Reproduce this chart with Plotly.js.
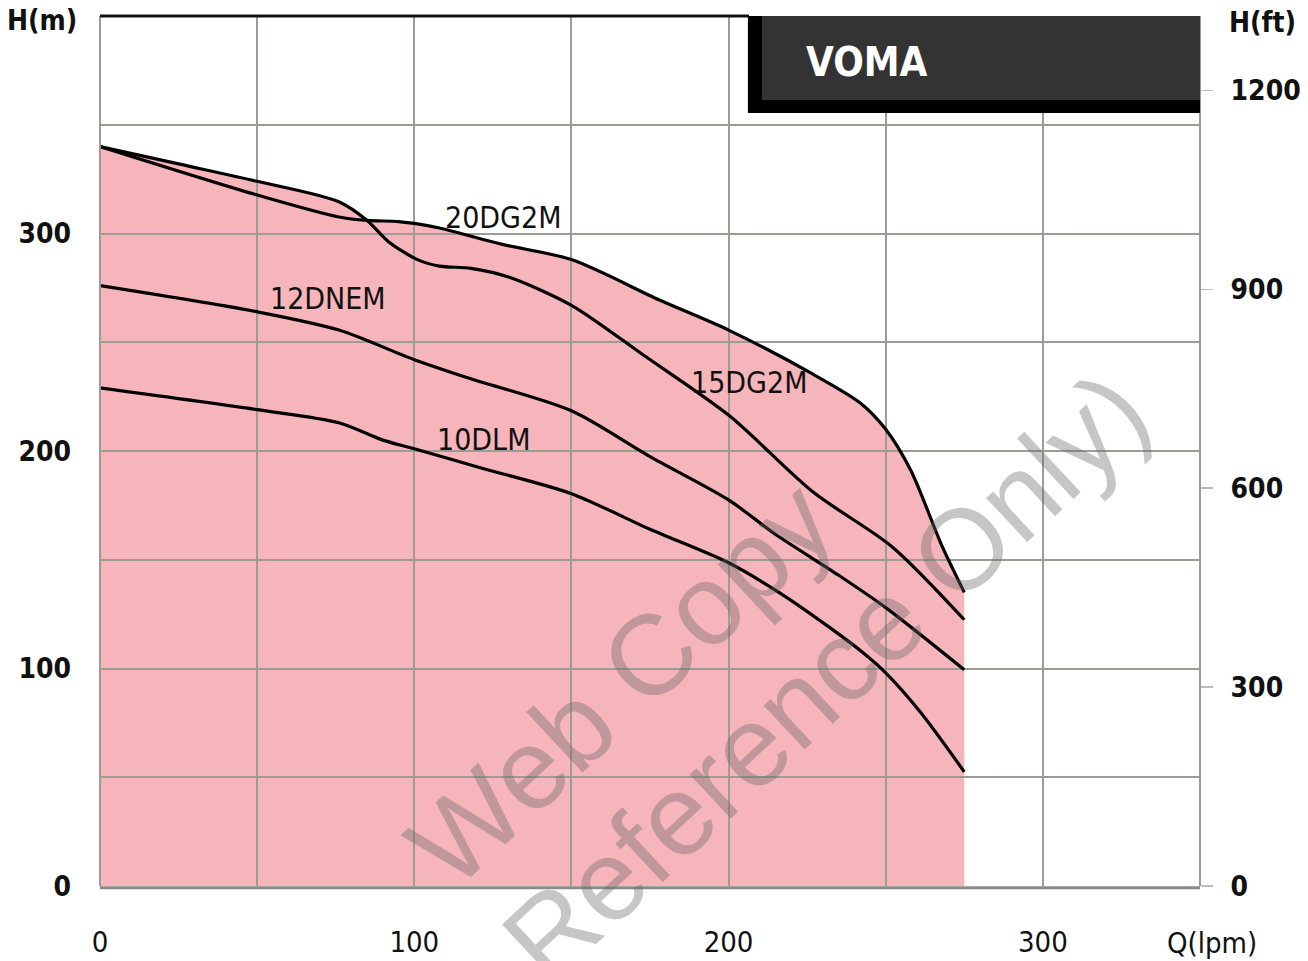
<!DOCTYPE html>
<html>
<head>
<meta charset="utf-8">
<script src="https://cdn.plot.ly/plotly-3.0.1.min.js"></script>
<style>
html,body{margin:0;padding:0;background:#fff;}
#chart{width:1308px;height:961px;}
</style>
</head>
<body>
<div id="chart"></div>
<script>
// ---- data (Q in lpm, H in m) ----
const q20DG2M = [0, 50, 76, 85, 95, 101, 108, 128, 150, 178, 200, 226, 242, 250, 258, 268, 275];
const h20DG2M = [340, 317.7, 307.6, 306, 305.5, 304.4, 302.5, 295, 288, 269.4, 255.6, 236, 222, 210, 191, 156, 135];

const q15DG2M = [0, 25, 50, 76, 85, 92, 101, 108, 118, 130, 150, 173, 200, 227, 252, 275];
const h15DG2M = [340, 332, 324, 314.6, 306, 296, 288, 285, 284, 280, 267, 244, 216.5, 181, 156, 122.4];

const q12DNEM = [0, 50, 76, 100, 118, 150, 175, 200, 215, 235, 250, 275];
const h12DNEM = [276, 264, 255.6, 242, 233.2, 218.5, 197.4, 177.5, 161.6, 142.9, 128, 99.4];

const q10DLM = [0, 50, 76, 90, 100, 121, 150, 175, 200, 216, 232, 243, 250, 261, 275];
const h10DLM = [229, 219, 213, 205, 201, 192.3, 180.4, 164, 148.6, 135, 119, 107, 98, 80, 52.5];

const seriesNames = ['20DG2M', '15DG2M', '12DNEM', '10DLM'];
const qTickVals = [0, 100, 200, 300];
const qTickText = ['0', '100', '200', '300'];
const hTickVals = [0, 100, 200, 300];
const hTickText = ['0', '100', '200', '300'];
const ftTickVals = [0, 300, 600, 900, 1200];
const ftTickText = ['0', '300', '600', '900', '1200'];

// ---- helpers ----
function interp(qs, hs, q) {
  if (q <= qs[0]) return hs[0];
  for (let i = 1; i < qs.length; i++) {
    if (q <= qs[i]) {
      const t = (q - qs[i-1]) / (qs[i] - qs[i-1]);
      return hs[i-1] + t * (hs[i] - hs[i-1]);
    }
  }
  return hs[hs.length-1];
}
// upper envelope of the two highest curves (used for the shaded area)
const env = [];
q15DG2M.forEach((q, i) => { if (h15DG2M[i] >= interp(q20DG2M, h20DG2M, q) - 1e-9) env.push([q, h15DG2M[i]]); });
q20DG2M.forEach((q, i) => { if (h20DG2M[i] >= interp(q15DG2M, h15DG2M, q) - 1e-9) env.push([q, h20DG2M[i]]); });
env.sort((a, b) => a[0] - b[0]);
const envQ = [], envH = [];
env.forEach(p => { if (!envQ.length || envQ[envQ.length-1] !== p[0]) { envQ.push(p[0]); envH.push(p[1]); } });

const FT = 0.3048;            // metres per foot
const YMAX = 400, XMAX = 350;
const gridCol = 'rgb(158,155,148)';
const fam = '"Liberation Sans Narrow", "DejaVu Sans Condensed", "Liberation Sans", sans-serif';
const tickFont = {family: fam, size: 28, color: '#111', weight: 700};
const xTickFont = {family: fam, size: 29, color: '#111'};
const lblFont = {family: fam, size: 30, color: '#111'};

const lineStyle = {color: '#000', width: 3.2, shape: 'spline', smoothing: 0.8};

const traces = [
  // shaded operating area, plotted on the feet axis (right)
  {x: envQ, y: envH.map(h => h / FT), xaxis: 'x', yaxis: 'y', type: 'scatter', mode: 'lines',
   line: {width: 0, shape: 'spline', smoothing: 0.8}, fill: 'tozeroy', fillcolor: '#F6B5BA', hoverinfo: 'skip', showlegend: false},
  {x: q20DG2M, y: h20DG2M, name: seriesNames[0], xaxis: 'x2', yaxis: 'y2', type: 'scatter', mode: 'lines', line: lineStyle},
  {x: q15DG2M, y: h15DG2M, name: seriesNames[1], xaxis: 'x2', yaxis: 'y2', type: 'scatter', mode: 'lines', line: lineStyle},
  {x: q12DNEM, y: h12DNEM, name: seriesNames[2], xaxis: 'x2', yaxis: 'y2', type: 'scatter', mode: 'lines', line: lineStyle},
  {x: q10DLM, y: h10DLM, name: seriesNames[3], xaxis: 'x2', yaxis: 'y2', type: 'scatter', mode: 'lines', line: lineStyle}
];

const wmColor = 'rgba(105,105,105,0.38)';
const wmFont = {family: '"Liberation Sans", Arial, sans-serif', size: 114, color: wmColor};

const layout = {
  width: 1308, height: 961,
  margin: {l: 100, r: 108, t: 16, b: 75},
  paper_bgcolor: '#fff', plot_bgcolor: 'rgba(0,0,0,0)',
  showlegend: false,
  // subplot 1: shaded area + H(ft) axis
  xaxis: {domain: [0, 1], anchor: 'y', range: [0, XMAX], showgrid: false, zeroline: false, showline: false,
          showticklabels: false, ticks: ''},
  yaxis: {domain: [0, 1], anchor: 'x', side: 'right', range: [0, YMAX / FT], showgrid: false, zeroline: false, showline: false,
          tickvals: ftTickVals, ticktext: ftTickText, ticks: 'outside', ticklen: 12, tickwidth: 1.5, tickcolor: 'rgb(190,188,182)',
          tickfont: tickFont, ticklabelstandoff: 12},
  // subplot 2 (drawn above): grid, curves, Q and H(m) axes
  xaxis2: {domain: [0, 1], anchor: 'y2', range: [0, XMAX], tickvals: qTickVals, ticktext: qTickText,
           showgrid: true, gridcolor: gridCol, gridwidth: 2,
           minor: {dtick: 50, tick0: 0, showgrid: true, gridcolor: gridCol, gridwidth: 2, ticks: ''},
           zeroline: false, showline: false, ticks: '', tickfont: xTickFont, ticklabelstandoff: 36},
  yaxis2: {domain: [0, 1], anchor: 'x2', range: [0, YMAX], tickvals: hTickVals, ticktext: hTickText,
           showgrid: true, gridcolor: gridCol, gridwidth: 2,
           minor: {dtick: 50, tick0: 0, showgrid: true, gridcolor: gridCol, gridwidth: 2, ticks: ''},
           zeroline: false, showline: false, ticks: '', tickfont: tickFont, ticklabelstandoff: 28},
  shapes: [
    {type: 'line', xref: 'paper', yref: 'paper', x0: 0, x1: 0, y0: 0, y1: 1, line: {color: gridCol, width: 2}},
    {type: 'line', xref: 'paper', yref: 'paper', x0: 1, x1: 1, y0: 0, y1: 1, line: {color: gridCol, width: 2}},
    {type: 'line', xref: 'paper', yref: 'paper', x0: 0, x1: 1, y0: -0.002, y1: -0.002, line: {color: 'rgb(140,138,132)', width: 3}},
    {type: 'line', xref: 'paper', yref: 'paper', x0: 0, x1: 0.59, y0: 1, y1: 1, line: {color: '#111', width: 3}},
    {type: 'rect', xref: 'paper', yref: 'paper', x0: 0.589, x1: 1.0, y0: 0.8885, y1: 1.0, fillcolor: '#000', line: {width: 0}},
    {type: 'rect', xref: 'paper', yref: 'paper', x0: 0.6018, x1: 1.0, y0: 0.9034, y1: 1.0, fillcolor: '#333333', line: {width: 0}}
  ],
  annotations: [
    {text: 'VOMA', xref: 'paper', yref: 'paper', x: 0.640, y: 0.947, xanchor: 'left', yanchor: 'middle', showarrow: false,
     font: {family: fam, size: 40, color: '#fff', weight: 700}},
    {text: 'H(m)', xref: 'paper', yref: 'paper', x: -0.0527, y: 0.9954, xanchor: 'center', yanchor: 'middle', showarrow: false, font: tickFont},
    {text: 'H(ft)', xref: 'paper', yref: 'paper', x: 1.0564, y: 0.9931, xanchor: 'center', yanchor: 'middle', showarrow: false, font: tickFont},
    {text: 'Q(lpm)', xref: 'paper', yref: 'paper', x: 1.0109, y: -0.0655, xanchor: 'center', yanchor: 'middle', showarrow: false, font: xTickFont},
    {text: seriesNames[0], xref: 'x2', yref: 'y2', x: 128.3, y: 307.5, xanchor: 'center', yanchor: 'middle', showarrow: false, font: lblFont},
    {text: seriesNames[1], xref: 'x2', yref: 'y2', x: 206.8, y: 231.3, xanchor: 'center', yanchor: 'middle', showarrow: false, font: lblFont},
    {text: seriesNames[2], xref: 'x2', yref: 'y2', x: 72.5, y: 270, xanchor: 'center', yanchor: 'middle', showarrow: false, font: lblFont},
    {text: seriesNames[3], xref: 'x2', yref: 'y2', x: 121.9, y: 205.5, xanchor: 'center', yanchor: 'middle', showarrow: false, font: lblFont},
    {text: 'Web Copy', xref: 'paper', yref: 'paper', x: (620 - 100) / 1100, y: (886 - 683) / 870, xanchor: 'center', yanchor: 'middle',
     showarrow: false, textangle: -43, font: wmFont},
    {text: 'Reference Only)', xref: 'paper', yref: 'paper', x: (825 - 100) / 1100, y: (886 - 676) / 870, xanchor: 'center', yanchor: 'middle',
     showarrow: false, textangle: -43, font: wmFont}
  ]
};

Plotly.newPlot('chart', traces, layout, {staticPlot: true, displayModeBar: false});
</script>
</body>
</html>
